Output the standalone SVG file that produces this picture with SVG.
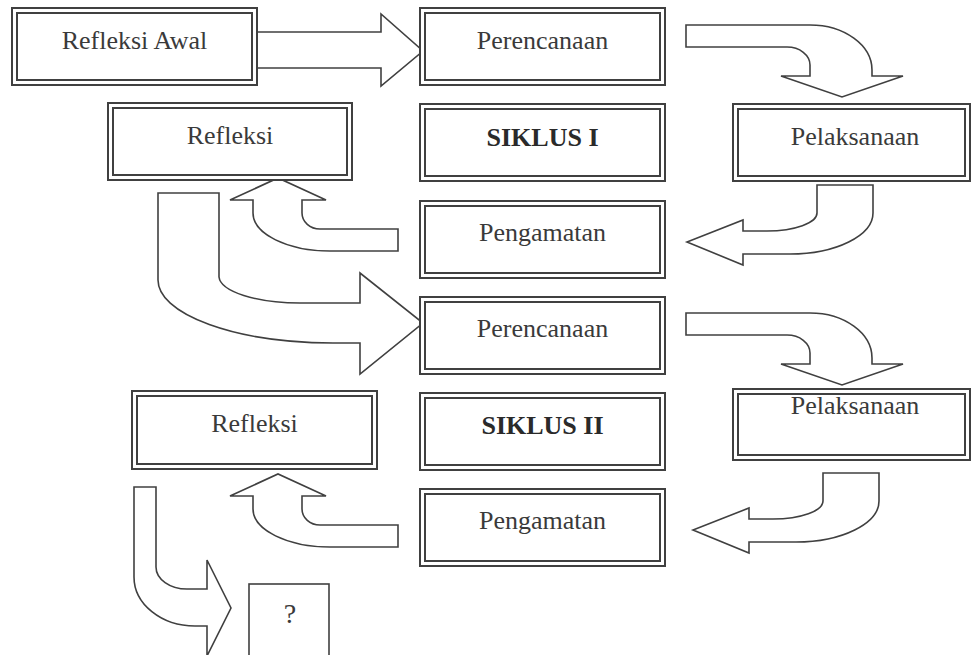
<svg xmlns="http://www.w3.org/2000/svg" width="971" height="655" viewBox="0 0 971 655">
<style>
.o{fill:#fff;stroke:#404040;stroke-width:2}
.i{fill:none;stroke:#404040;stroke-width:2}
.t{font-family:"Liberation Serif","Times New Roman",serif;font-size:26px;fill:#3a3a3a;text-anchor:middle}
.b{font-weight:bold;fill:#2a2a2a}
.a{fill:#fff;stroke:#404040;stroke-width:1.6;stroke-linejoin:miter}
</style>
<rect width="971" height="655" fill="#fff"/>
<g id="connectors">
<path class="a" d="M255,32 L381,32 L381,14 L423,51 L381,86 L381,68 L255,68 Z"/>
<path class="a" d="M686,25 L810,25 A62,45 0 0 1 872,70 L872,76 L903,76 L842,97 L781,76 L810,76 L810,65 A23,18 0 0 0 787,47 L686,47 Z"/>
<path class="a" d="M817,185 L873,185 L873,213 A83,41 0 0 1 790,254 L743,254 L743,265 L687,242 L743,220 L743,231 L767,231 A50,18 0 0 0 817,213 Z"/>
<path class="a" d="M398,229 L320,229 A18,16 0 0 1 302,213 L302,200 L326,200 L278,178 L230,200 L253,200 L253,213 A77,38 0 0 0 330,251 L398,251 Z"/>
<path class="a" d="M158,193 L219,193 L219,277 A81,27 0 0 0 300,303 L360,303 L360,273 L423,323 L360,374 L360,343 L333,343 A175,63 0 0 1 158,280 Z"/>
<path class="a" transform="translate(0,288)" d="M686,25 L810,25 A62,45 0 0 1 872,70 L872,76 L903,76 L842,97 L781,76 L810,76 L810,65 A23,18 0 0 0 787,47 L686,47 Z"/>
<path class="a" transform="translate(6,288)" d="M817,185 L873,185 L873,213 A83,41 0 0 1 790,254 L743,254 L743,265 L687,242 L743,220 L743,231 L767,231 A50,18 0 0 0 817,213 Z"/>
<path class="a" transform="translate(0,296)" d="M398,229 L320,229 A18,16 0 0 1 302,213 L302,200 L326,200 L278,178 L230,200 L253,200 L253,213 A77,38 0 0 0 330,251 L398,251 Z"/>
<path class="a" d="M134,487 L156,487 L156,567 A31,22 0 0 0 187,589 L207,589 L207,560 L231,608 L207,656 L207,626 L195,626 A61,49 0 0 1 134,577 Z"/>
</g>
<g id="refleksi-awal">
<rect class="o" x="12" y="8" width="245" height="77"/>
<rect class="i" x="17" y="13" width="235" height="67"/>
<text class="t" x="134.5" y="49">Refleksi Awal</text>
</g>
<g id="perencanaan-1">
<rect class="o" x="420" y="8" width="245" height="77"/>
<rect class="i" x="425" y="13" width="235" height="67"/>
<text class="t" x="542.5" y="49">Perencanaan</text>
</g>
<g id="refleksi-1">
<rect class="o" x="108" y="103" width="244" height="77"/>
<rect class="i" x="113" y="108" width="234" height="67"/>
<text class="t" x="230" y="144">Refleksi</text>
</g>
<g id="siklus-1">
<rect class="o" x="420" y="104" width="245" height="77"/>
<rect class="i" x="425" y="109" width="235" height="67"/>
<text class="t b" x="542.5" y="146">SIKLUS I</text>
</g>
<g id="pelaksanaan-1">
<rect class="o" x="733" y="104" width="237" height="77"/>
<rect class="i" x="738" y="109" width="227" height="67"/>
<text class="t" x="855" y="145">Pelaksanaan</text>
</g>
<g id="pengamatan-1">
<rect class="o" x="420" y="201" width="245" height="77"/>
<rect class="i" x="425" y="206" width="235" height="67"/>
<text class="t" x="542.5" y="241">Pengamatan</text>
</g>
<g id="perencanaan-2">
<rect class="o" x="420" y="297" width="245" height="77"/>
<rect class="i" x="425" y="302" width="235" height="67"/>
<text class="t" x="542.5" y="337">Perencanaan</text>
</g>
<g id="refleksi-2">
<rect class="o" x="132" y="391" width="245" height="78"/>
<rect class="i" x="137" y="396" width="235" height="68"/>
<text class="t" x="254.5" y="432">Refleksi</text>
</g>
<g id="siklus-2">
<rect class="o" x="420" y="393" width="245" height="77"/>
<rect class="i" x="425" y="398" width="235" height="67"/>
<text class="t b" x="542.5" y="434">SIKLUS II</text>
</g>
<g id="pelaksanaan-2">
<rect class="o" x="733" y="389" width="237" height="71"/>
<rect class="i" x="738" y="394" width="227" height="61"/>
<text class="t" x="855" y="414">Pelaksanaan</text>
</g>
<g id="pengamatan-2">
<rect class="o" x="420" y="489" width="245" height="77"/>
<rect class="i" x="425" y="494" width="235" height="67"/>
<text class="t" x="542.5" y="529">Pengamatan</text>
</g>
<g id="unknown">
<rect x="249" y="584" width="80" height="80" fill="#fff" stroke="#404040" stroke-width="1.6"/>
<text class="t" x="290" y="623" style="font-size:28px">?</text>
</g>
</svg>
